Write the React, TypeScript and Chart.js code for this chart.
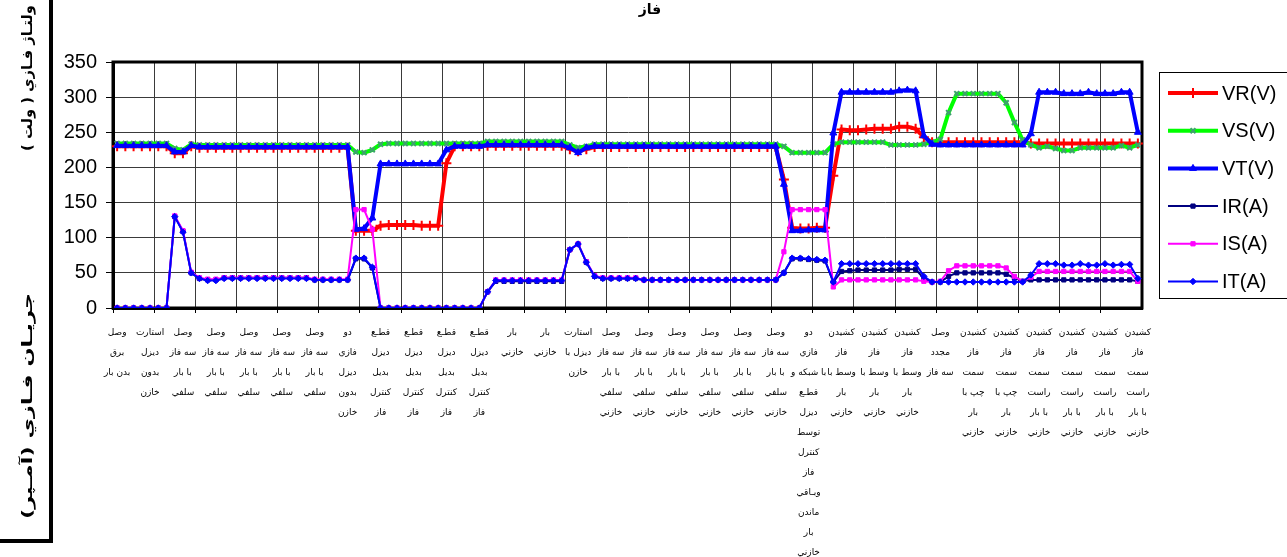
import React, { useEffect, useRef } from 'react';
import { Chart, registerables } from 'chart.js';
import { drawPoint } from 'chart.js/helpers';

Chart.register(...registerables);

// Tick labels: one multi-line label every 4 categories (32 labels over 125 readings)
const tickLabels: string[][] = [
  ['وصل', 'برق', 'بدن بار'],
  ['استارت', 'ديزل', 'بدون', 'خازن'],
  ['وصل', 'سه فاز', 'با بار', 'سلفي'],
  ['وصل', 'سه فاز', 'با بار', 'سلفي'],
  ['وصل', 'سه فاز', 'با بار', 'سلفي'],
  ['وصل', 'سه فاز', 'با بار', 'سلفي'],
  ['وصل', 'سه فاز', 'با بار', 'سلفي'],
  ['دو', 'فازي', 'ديزل', 'بدون', 'خازن'],
  ['قطـع', 'ديزل', 'بديل', 'كنترل', 'فاز'],
  ['قطـع', 'ديزل', 'بديل', 'كنترل', 'فاز'],
  ['قطـع', 'ديزل', 'بديل', 'كنترل', 'فاز'],
  ['قطـع', 'ديزل', 'بديل', 'كنترل', 'فاز'],
  ['بار', 'خازني'],
  ['بار', 'خازني'],
  ['استارت', 'ديزل با', 'خازن'],
  ['وصل', 'سه فاز', 'با بار', 'سلفي', 'خازني'],
  ['وصل', 'سه فاز', 'با بار', 'سلفي', 'خازني'],
  ['وصل', 'سه فاز', 'با بار', 'سلفي', 'خازني'],
  ['وصل', 'سه فاز', 'با بار', 'سلفي', 'خازني'],
  ['وصل', 'سه فاز', 'با بار', 'سلفي', 'خازني'],
  ['وصل', 'سه فاز', 'با بار', 'سلفي', 'خازني'],
  ['دو', 'فازي', 'با شبكه و', 'قطـع', 'ديزل', 'توسط', 'كنترل', 'فاز', 'وبـاقي', 'ماندن', 'بار', 'خازني'],
  ['كشيدن', 'فاز', 'وسط با', 'بار', 'خازني'],
  ['كشيدن', 'فاز', 'وسط با', 'بار', 'خازني'],
  ['كشيدن', 'فاز', 'وسط با', 'بار', 'خازني'],
  ['وصل', 'مجدد', 'سه فاز'],
  ['كشيدن', 'فاز', 'سمت', 'چپ با', 'بار', 'خازني'],
  ['كشيدن', 'فاز', 'سمت', 'چپ با', 'بار', 'خازني'],
  ['كشيدن', 'فاز', 'سمت', 'راست', 'با بار', 'خازني'],
  ['كشيدن', 'فاز', 'سمت', 'راست', 'با بار', 'خازني'],
  ['كشيدن', 'فاز', 'سمت', 'راست', 'با بار', 'خازني'],
  ['كشيدن', 'فاز', 'سمت', 'راست', 'با بار', 'خازني'],
];

const yTicks = [0, 50, 100, 150, 200, 250, 300, 350];

const vr = [
  230, 230, 230, 230, 230, 230, 230, 220, 220, 230,
  228, 228, 228, 228, 228, 228, 228, 228, 228, 228,
  228, 228, 228, 228, 228, 228, 228, 228, 228, 110,
  110, 110, 117, 118, 118, 118, 118, 117, 117, 117,
  206, 230, 230, 230, 230, 231, 231, 231, 231, 231,
  231, 231, 231, 231, 231, 226, 223, 226, 229, 229,
  229, 229, 229, 229, 229, 229, 229, 229, 229, 229,
  229, 229, 229, 229, 229, 229, 229, 229, 229, 229,
  229, 183, 114, 113, 113, 114, 114, 188, 254, 253,
  253, 254, 255, 255, 255, 258, 258, 255, 243, 236,
  236, 236, 236, 236, 236, 236, 236, 236, 236, 236,
  236, 234, 234, 234, 234, 234, 234, 234, 234, 234,
  234, 234, 234, 234, 234,
];

const vs = [
  234, 234, 234, 234, 234, 234, 234, 227, 225, 233,
  232, 232, 232, 232, 232, 232, 232, 232, 232, 232,
  232, 232, 232, 232, 232, 232, 232, 232, 232, 222,
  221, 225, 233, 234, 234, 234, 234, 234, 234, 234,
  234, 234, 234, 234, 234, 237, 237, 237, 237, 237,
  237, 237, 237, 237, 237, 232, 228, 230, 233, 233,
  233, 233, 233, 233, 233, 233, 233, 233, 233, 233,
  233, 233, 233, 233, 233, 233, 233, 233, 233, 233,
  233, 230, 221, 221, 221, 221, 221, 233, 236, 236,
  236, 236, 236, 236, 232, 232, 232, 232, 233, 236,
  240, 278, 305, 305, 305, 305, 305, 305, 292, 264,
  239, 232, 228, 230, 227, 224, 224, 228, 228, 228,
  228, 228, 231, 228, 232,
];

const vt = [
  231, 231, 231, 231, 231, 231, 231, 222, 222, 231,
  229, 229, 229, 229, 229, 229, 229, 229, 229, 229,
  229, 229, 229, 229, 229, 229, 229, 229, 229, 112,
  113, 128, 205, 205, 205, 205, 205, 205, 205, 205,
  225, 230, 230, 230, 230, 232, 232, 232, 232, 232,
  232, 232, 232, 232, 232, 228, 221, 228, 230, 230,
  230, 230, 230, 230, 230, 230, 230, 230, 230, 230,
  230, 230, 230, 230, 230, 230, 230, 230, 230, 230,
  230, 176, 110, 110, 111, 111, 111, 249, 307, 307,
  307, 307, 307, 307, 307, 309, 310, 309, 245, 233,
  232, 232, 232, 232, 232, 232, 232, 232, 232, 232,
  232, 248, 307, 307, 307, 305, 305, 305, 307, 305,
  305, 305, 307, 307, 250,
];

const ir = [
  0, 0, 0, 0, 0, 0, 0, 130, 109, 50,
  42, 40, 40, 43, 43, 43, 43, 43, 43, 43,
  43, 43, 43, 43, 40, 40, 40, 40, 40, 70,
  70, 57, 0, 0, 0, 0, 0, 0, 0, 0,
  0, 0, 0, 0, 0, 23, 38, 38, 38, 38,
  38, 38, 38, 38, 38, 83, 91, 65, 45, 42,
  42, 42, 42, 42, 40, 40, 40, 40, 40, 40,
  40, 40, 40, 40, 40, 40, 40, 40, 40, 40,
  40, 50, 70, 70, 69, 68, 67, 37, 52, 53,
  54, 54, 54, 54, 54, 55, 55, 55, 42, 37,
  37, 45, 50, 50, 50, 50, 50, 50, 48, 43,
  38, 40, 40, 40, 40, 40, 40, 40, 40, 40,
  40, 40, 40, 40, 38,
];

const is = [
  0, 0, 0, 0, 0, 0, 0, 131, 110, 51,
  43, 41, 41, 43, 43, 43, 43, 43, 43, 43,
  43, 43, 43, 43, 41, 41, 41, 41, 41, 140,
  140, 112, 0, 0, 0, 0, 0, 0, 0, 0,
  0, 0, 0, 0, 0, 23, 40, 40, 40, 40,
  40, 40, 40, 40, 40, 83, 91, 66, 46, 43,
  43, 43, 43, 43, 40, 40, 40, 40, 40, 40,
  40, 40, 40, 40, 40, 40, 40, 40, 40, 40,
  40, 80, 140, 140, 140, 140, 140, 30, 40, 40,
  40, 40, 40, 40, 40, 40, 40, 40, 38, 37,
  38, 53, 60, 60, 60, 60, 60, 60, 57, 45,
  38, 44, 52, 52, 52, 52, 52, 52, 52, 52,
  52, 52, 52, 52, 38,
];

const it = [
  0, 0, 0, 0, 0, 0, 0, 130, 108, 50,
  42, 39, 39, 42, 42, 42, 42, 42, 42, 42,
  42, 42, 42, 42, 40, 40, 40, 40, 40, 71,
  71, 58, 0, 0, 0, 0, 0, 0, 0, 0,
  0, 0, 0, 0, 0, 23, 39, 39, 39, 39,
  39, 39, 39, 39, 39, 83, 91, 65, 45, 42,
  42, 42, 42, 42, 40, 40, 40, 40, 40, 40,
  40, 40, 40, 40, 40, 40, 40, 40, 40, 40,
  40, 50, 71, 71, 70, 69, 68, 37, 63, 63,
  63, 63, 63, 63, 63, 63, 63, 63, 45, 37,
  37, 37, 37, 37, 37, 37, 37, 37, 37, 37,
  37, 47, 63, 63, 63, 61, 61, 63, 61, 61,
  63, 61, 62, 62, 42,
];

const categories = vr.map((_, i) => (i % 4 === 0 ? tickLabels[i / 4] : ''));

const frameLegendPlugin = {
  id: 'frameLegend',
  beforeDatasetsDraw(chart: any) {
    const { ctx, chartArea: a } = chart;
    ctx.save();
    ctx.strokeStyle = '#000';
    ctx.lineWidth = 3;
    ctx.strokeRect(a.left, a.top, a.right - a.left, a.bottom - a.top);
    ctx.restore();
  },
  afterDraw(chart: any) {
    const ctx = chart.ctx;
    ctx.save();
    ctx.strokeStyle = '#000';
    ctx.lineWidth = 1;
    ctx.strokeRect(1159.5, 72.5, 140, 226);
    chart.data.datasets.forEach((ds: any, k: number) => {
      const y = 93 + k * 37.7;
      ctx.strokeStyle = ds.borderColor;
      ctx.lineWidth = ds.borderWidth;
      ctx.beginPath();
      ctx.moveTo(1168, y);
      ctx.lineTo(1218, y);
      ctx.stroke();
      ctx.fillStyle = ds.pointBackgroundColor;
      ctx.strokeStyle = ds.pointBorderColor;
      ctx.lineWidth = ds.pointBorderWidth;
      drawPoint(ctx, { pointStyle: ds.pointStyle, radius: ds.pointRadius, borderWidth: ds.pointBorderWidth, rotation: 0 } as any, 1193, y);
      ctx.fillStyle = '#000';
      ctx.font = '20px "Liberation Sans", Arial, sans-serif';
      ctx.textBaseline = 'middle';
      ctx.textAlign = 'left';
      ctx.fillText(ds.label, 1222, y + 1);
    });
    ctx.restore();
  },
};

export default function App() {
  const canvasRef = useRef<HTMLCanvasElement | null>(null);

  useEffect(() => {
    if (!canvasRef.current) return;
    const mk = (label: string, data: number[], color: string, width: number, style: string, radius: number, pColor: string, pBorder: number, order: number) => ({
      label,
      data,
      borderColor: color,
      backgroundColor: color,
      borderWidth: width,
      pointStyle: style,
      pointRadius: radius,
      pointBackgroundColor: pColor,
      pointBorderColor: pColor,
      pointBorderWidth: pBorder,
      tension: 0,
      order,
    });
    const chart = new Chart(canvasRef.current, {
      type: 'line',
      data: {
        labels: categories,
        datasets: [
          mk('VR(V)', vr, '#FF0000', 4, 'cross', 5, '#FF0000', 2, 5),
          mk('VS(V)', vs, '#00FF00', 4, 'crossRot', 3.5, '#3F9F6F', 2, 4),
          mk('VT(V)', vt, '#0000FF', 4, 'triangle', 4, '#0000FF', 1, 3),
          mk('IR(A)', ir, '#000080', 2, 'rect', 3, '#000080', 1, 2),
          mk('IS(A)', is, '#FF00FF', 2, 'rect', 3, '#FF00FF', 1, 1),
          mk('IT(A)', it, '#0000FF', 2, 'rectRot', 3.2, '#0000FF', 1, 0),
        ] as any,
      },
      options: {
        responsive: false,
        animation: false,
        events: [],
        layout: { padding: { top: 62, right: 145, left: 0, bottom: 0 } },
        plugins: {
          legend: { display: false },
          title: { display: false },
          tooltip: { enabled: false },
        },
        scales: {
          x: {
            type: 'category',
            offset: true,
            afterFit: (s: any) => { s.height = 249; },
            grid: {
              offset: true,
              color: (c: any) => (c.index % 5 === 0 ? '#3a3a3a' : 'rgba(0,0,0,0)'),
              tickColor: (c: any) => (c.index % 5 === 0 ? '#000' : 'rgba(0,0,0,0)'),
              lineWidth: 1,
              tickLength: 5,
            },
            border: { display: true, color: '#000', width: 3 },
            ticks: {
              autoSkip: false,
              maxRotation: 0,
              minRotation: 0,
              color: '#000',
              padding: 10,
              font: { family: '"DejaVu Sans", sans-serif', size: 9, lineHeight: 2.22 },
            },
          },
          y: {
            min: 0,
            max: 350,
            afterFit: (s: any) => { s.width = 113; },
            afterBuildTicks: (s: any) => { s.ticks = yTicks.map((v) => ({ value: v })); },
            grid: { color: '#3a3a3a', lineWidth: 1, tickLength: 7, tickColor: '#000' },
            border: { display: true, color: '#000', width: 3 },
            ticks: {
              color: '#000',
              padding: 9,
              font: { family: '"Liberation Sans", Arial, sans-serif', size: 20 },
            },
          },
        },
      } as any,
      plugins: [frameLegendPlugin],
    });
    return () => chart.destroy();
  }, []);

  const rot = (scale: number): React.CSSProperties => ({
    position: 'absolute',
    left: 27,
    transform: `translate(-50%, -50%) rotate(-90deg) scaleX(${scale})`,
    whiteSpace: 'nowrap',
    fontFamily: '"DejaVu Sans", sans-serif',
    fontWeight: 'bold',
    fontSize: 14,
    direction: 'rtl',
    color: '#000',
  });

  return (
    <div style={{ position: 'absolute', left: 0, top: 0, width: 1287, height: 557, overflow: 'hidden', background: '#fff' }}>
      <canvas ref={canvasRef} width={1287} height={557} style={{ position: 'absolute', left: 0, top: 0, width: 1287, height: 557 }} />
      <div style={{ position: 'absolute', left: -10, top: -10, width: 63, height: 553, boxSizing: 'border-box', border: '4px solid #000' }} />
      <div style={{ ...rot(1.05), top: 78 }}>ولتـاژ فـازي ( ولت )</div>
      <div style={{ ...rot(1.6), top: 406 }}>جريـان فـازي (آمـپر)</div>
      <div style={{ position: 'absolute', left: 550, top: 0, width: 200, textAlign: 'center', fontFamily: '"DejaVu Sans", sans-serif', fontWeight: 'bold', fontSize: 14, direction: 'rtl', lineHeight: '18px' }}>فاز</div>
    </div>
  );
}
